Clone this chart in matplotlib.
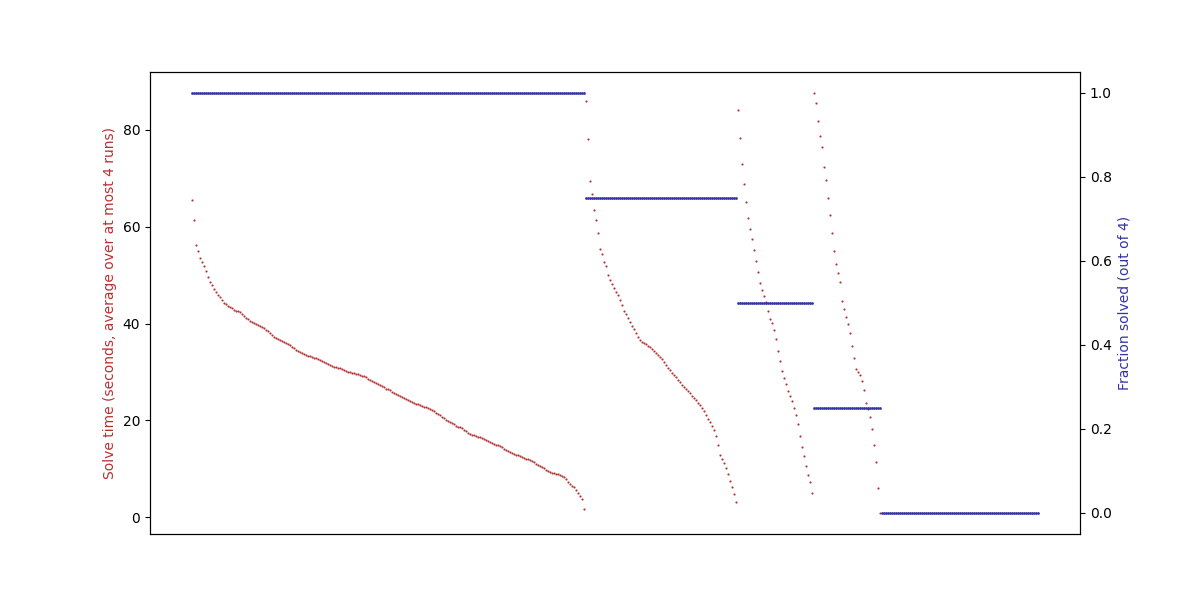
import numpy as np
import matplotlib
matplotlib.use("Agg")
import matplotlib.pyplot as plt

# solve times (seconds), one list per "fraction solved" group, sorted descending
times_all4 = [
    65.5, 61.4, 56.3, 55.0, 53.6, 52.7, 51.9, 50.8, 49.6, 48.6,
    47.9, 47.2, 46.5, 45.9, 45.4, 44.8, 44.3, 44.0, 43.7, 43.5,
    43.2, 42.9, 42.7, 42.5, 42.3, 41.9, 41.5, 41.2, 40.9, 40.6,
    40.3, 40.1, 39.9, 39.8, 39.6, 39.3, 39.0, 38.7, 38.4, 38.1,
    37.7, 37.3, 37.0, 36.8, 36.6, 36.4, 36.2, 35.9, 35.7, 35.5,
    35.2, 34.9, 34.6, 34.3, 34.1, 33.9, 33.8, 33.6, 33.4, 33.3,
    33.1, 32.9, 32.8, 32.6, 32.4, 32.2, 32.0, 31.8, 31.7, 31.5,
    31.3, 31.1, 31.0, 30.9, 30.8, 30.6, 30.5, 30.3, 30.1, 30.0,
    29.9, 29.8, 29.6, 29.5, 29.4, 29.2, 29.1, 28.9, 28.6, 28.4,
    28.2, 28.0, 27.7, 27.5, 27.3, 27.1, 26.9, 26.6, 26.4, 26.2,
    25.8, 25.6, 25.4, 25.2, 25.0, 24.8, 24.6, 24.4, 24.2, 24.1,
    23.9, 23.7, 23.5, 23.3, 23.2, 23.0, 22.8, 22.7, 22.5, 22.3,
    22.1, 21.9, 21.6, 21.3, 21.1, 20.8, 20.5, 20.2, 19.9, 19.6,
    19.4, 19.2, 18.9, 18.7, 18.6, 18.4, 18.1, 17.8, 17.5, 17.3,
    17.1, 16.9, 16.7, 16.6, 16.5, 16.3, 16.1, 15.9, 15.7, 15.6,
    15.4, 15.2, 15.0, 14.9, 14.8, 14.5, 14.2, 13.9, 13.6, 13.4,
    13.2, 13.0, 12.9, 12.8, 12.7, 12.5, 12.3, 12.1, 12.0, 11.8,
    11.6, 11.4, 11.1, 10.9, 10.7, 10.4, 10.1, 9.8, 9.6, 9.4,
    9.2, 9.1, 9.0, 8.9, 8.8, 8.6, 8.3, 7.9, 7.4, 6.8,
    6.5, 6.2, 5.6, 5.1, 4.5, 3.8, 1.7,
]
times_3of4 = [
    85.9, 78.1, 69.4, 66.8, 63.5, 61.4, 58.8, 55.5, 54.3, 52.8,
    51.9, 50.0, 49.0, 48.2, 47.3, 46.5, 45.8, 44.9, 43.8, 42.6,
    41.9, 41.1, 40.3, 39.5, 38.9, 38.0, 37.2, 36.6, 36.3, 36.0,
    35.7, 35.4, 35.1, 34.7, 34.3, 33.9, 33.5, 33.1, 32.6, 32.0,
    31.5, 30.9, 30.4, 29.9, 29.4, 28.9, 28.4, 27.9, 27.4, 27.0,
    26.5, 26.1, 25.6, 25.1, 24.6, 24.2, 23.7, 23.2, 22.6, 22.0,
    21.2, 20.4, 19.6, 18.8, 18.0, 16.8, 15.0, 12.8, 12.0, 11.2,
    10.2, 8.9, 7.6, 6.2, 4.8, 3.1,
]
times_2of4 = [
    84.1, 78.3, 73.0, 68.8, 65.0, 61.8, 59.5, 57.4, 55.2, 53.0,
    50.6, 48.3, 47.0, 45.6, 44.4, 42.6, 41.0, 40.1, 38.6, 36.8,
    34.4, 32.2, 30.2, 28.8, 27.5, 26.1, 25.0, 24.0, 22.6, 21.2,
    19.2, 16.8, 14.6, 12.6, 10.6, 8.7, 7.2, 5.0,
]
times_1of4 = [
    87.6, 85.5, 81.8, 78.8, 76.4, 72.4, 69.6, 65.9, 62.5, 58.6,
    55.0, 52.2, 50.4, 48.6, 44.6, 43.0, 41.4, 39.9, 38.0, 35.4,
    32.8, 30.7, 30.0, 29.4, 28.2, 26.3, 23.7, 22.4, 20.8, 18.2,
    15.0, 11.5, 6.0, 0.9,
]
n_unsolved = 79

fraction_levels = [1.0, 0.75, 0.5, 0.25, 0.0]
time_groups = [times_all4, times_3of4, times_2of4, times_1of4, []]

red = "#b83030"
blue = "#3333aa"

# build per-problem arrays
times = []
fractions = []
for level, grp in zip(fraction_levels, time_groups):
    n = len(grp) if len(grp) > 0 else n_unsolved
    times += list(grp) + [np.nan] * (n - len(grp))
    fractions += [level] * n
times = np.array(times)
fractions = np.array(fractions)
x = np.arange(len(times))

fig, ax = plt.subplots(figsize=(12, 6), dpi=100)
ax.scatter(x, times, s=2.4, color=red, linewidths=0)
ax.set_ylabel("Solve time (seconds, average over at most 4 runs)", color=red)
ax.set_xticks([])

ax2 = ax.twinx()
ax2.scatter(x, fractions, s=4, color=blue, linewidths=0)
ax2.set_ylabel("Fraction solved (out of 4)", color=blue)

fig.savefig("out.png")
